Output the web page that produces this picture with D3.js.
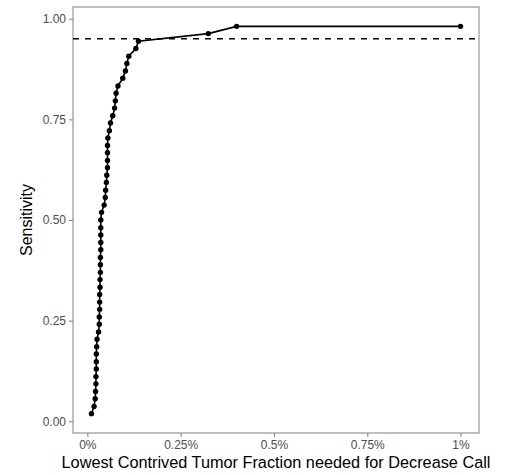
<!DOCTYPE html>
<html>
<head>
<meta charset="utf-8">
<script src="https://cdn.jsdelivr.net/npm/d3@7"></script>
<style>
  body { margin: 0; background: #fff; }
  text { font-family: "Liberation Sans", Arial, sans-serif; }
</style>
</head>
<body>
<svg id="chart"></svg>
<script>
// lowest contrived tumor fraction (in %) for each sample, and the sensitivity reached
const tumorFraction = [
  0.011, 0.018, 0.021, 0.022, 0.023, 0.023, 0.024, 0.024, 0.024, 0.025,
  0.026, 0.030, 0.032, 0.032, 0.033, 0.033, 0.033, 0.034, 0.034, 0.035,
  0.035, 0.035, 0.036, 0.036, 0.036, 0.036, 0.036, 0.038, 0.045, 0.048,
  0.049, 0.051, 0.052, 0.054, 0.054, 0.054, 0.054, 0.055, 0.059, 0.062,
  0.068, 0.073, 0.075, 0.077, 0.082, 0.095, 0.102, 0.106, 0.111, 0.130,
  0.137, 0.324, 0.400, 1.000,
];
const sensitivity = [
  0.019, 0.037, 0.056, 0.074, 0.093, 0.111, 0.130, 0.148, 0.167, 0.185,
  0.204, 0.222, 0.241, 0.259, 0.278, 0.296, 0.315, 0.333, 0.352, 0.370,
  0.389, 0.407, 0.426, 0.444, 0.463, 0.481, 0.500, 0.519, 0.537, 0.556,
  0.574, 0.593, 0.611, 0.630, 0.648, 0.667, 0.685, 0.704, 0.722, 0.741,
  0.759, 0.778, 0.796, 0.815, 0.833, 0.852, 0.870, 0.889, 0.907, 0.926,
  0.944, 0.963, 0.981, 0.981,
];
const targetSensitivity = 0.95;
const xTicks = [0, 0.25, 0.5, 0.75, 1];
const yTicks = [0, 0.25, 0.5, 0.75, 1];

const config = {
  width: 509,
  height: 475,
  margin: { top: 7, right: 30, bottom: 42, left: 73 },
};

const data = tumorFraction.map((d, i) => ({ x: d, y: sensitivity[i] }));

const innerW = config.width - config.margin.left - config.margin.right;
const innerH = config.height - config.margin.top - config.margin.bottom;

// ggplot style 5% expansion of the data range
const expand = (ext) => {
  const pad = (ext[1] - ext[0]) * 0.05;
  return [ext[0] - pad, ext[1] + pad];
};

const xScale = d3.scaleLinear()
  .domain(expand(d3.extent(data, (d) => d.x)))
  .range([0, innerW]);

const yScale = d3.scaleLinear()
  .domain(expand(d3.extent(data, (d) => d.y)))
  .range([innerH, 0]);

const svg = d3.select('#chart')
  .attr('width', config.width)
  .attr('height', config.height);

const chart = svg.append('g')
  .attr('transform', `translate(${config.margin.left},${config.margin.top})`);

// axes
const xAxis = d3.axisBottom(xScale)
  .tickValues(xTicks)
  .tickSize(4)
  .tickPadding(3)
  .tickFormat((d) => `${d}%`);

const yAxis = d3.axisLeft(yScale)
  .tickValues(yTicks)
  .tickSize(4)
  .tickPadding(3)
  .tickFormat(d3.format('.2f'));

const styleAxis = (g) => {
  g.select('.domain').remove();
  g.selectAll('.tick line').attr('stroke', '#8a8a8a').attr('stroke-width', 1.1);
  g.selectAll('.tick text')
    .attr('fill', '#4d4d4d')
    .style('font-size', '12px')
    .style('font-family', '"Liberation Sans", Arial, sans-serif');
};

chart.append('g')
  .attr('transform', `translate(0,${innerH})`)
  .call(xAxis)
  .call(styleAxis);

chart.append('g')
  .call(yAxis)
  .call(styleAxis);

// panel border
chart.append('rect')
  .attr('x', 0)
  .attr('y', 0)
  .attr('width', innerW)
  .attr('height', innerH)
  .attr('fill', 'none')
  .attr('stroke', '#8a8a8a')
  .attr('stroke-width', 1.1);

// dashed target line
chart.append('line')
  .attr('x1', 0)
  .attr('x2', innerW)
  .attr('y1', yScale(targetSensitivity))
  .attr('y2', yScale(targetSensitivity))
  .attr('stroke', '#000')
  .attr('stroke-width', 1.5)
  .attr('stroke-dasharray', '6,6');

const line = d3.line()
  .x((d) => xScale(d.x))
  .y((d) => yScale(d.y));

chart.append('path')
  .datum(data)
  .attr('d', line)
  .attr('fill', 'none')
  .attr('stroke', '#000')
  .attr('stroke-width', 1.6);

chart.selectAll('.point')
  .data(data)
  .join('circle')
  .attr('class', 'point')
  .attr('cx', (d) => xScale(d.x))
  .attr('cy', (d) => yScale(d.y))
  .attr('r', 2.7)
  .attr('fill', '#000');

// axis titles
svg.append('text')
  .attr('x', config.margin.left + innerW / 2)
  .attr('y', 468)
  .attr('text-anchor', 'middle')
  .style('font-size', '16.3px')
  .attr('fill', '#000')
  .text('Lowest Contrived Tumor Fraction needed for Decrease Call');

svg.append('text')
  .attr('transform', `translate(32,${config.margin.top + innerH / 2}) rotate(-90)`)
  .attr('text-anchor', 'middle')
  .style('font-size', '16px')
  .attr('fill', '#000')
  .text('Sensitivity');
</script>
</body>
</html>
